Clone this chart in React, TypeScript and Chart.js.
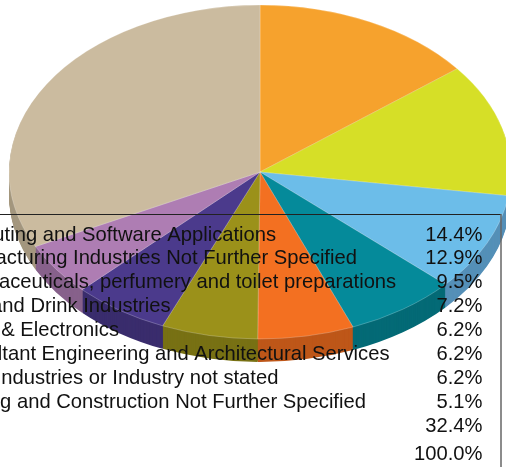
import React, { useEffect, useRef } from "react";
import { Chart, registerables } from "chart.js";

Chart.register(...registerables);

const categories = [
  "Computing and Software Applications",
  "Manufacturing Industries Not Further Specified",
  "Pharmaceuticals, perfumery and toilet preparations",
  "Food and Drink Industries",
  "Electr. & Electronics",
  "Consultant Engineering and Architectural Services",
  "Other Industries or Industry not stated",
  "Building and Construction Not Further Specified",
  "Others",
];
const shares = [14.4, 12.9, 9.5, 7.2, 6.2, 6.2, 6.2, 5.1, 32.4];
const shareLabels = ["14.4%", "12.9%", "9.5%", "7.2%", "6.2%", "6.2%", "6.2%", "5.1%", "32.4%"];
const totalLabel = "Total";
const totalShare = "100.0%";
const topColors = ["#F6A22D", "#D6DF27", "#6CBDE9", "#058A9A", "#F37021", "#9B911A", "#4B3A8C", "#AE7DB3", "#CBBB9F"];
const sideColors = ["#BF7E23", "#A7AE1E", "#5590B8", "#046A76", "#BE5719", "#787114", "#3A2D6D", "#87618B", "#A4977F"];

const CX = 260, CY = 172, RX = 251, SQUASH = 0.665, DEPTH = 23;

const pie3d = {
  id: "pie3d",
  beforeDatasetsDraw(chart: any) {
    const ctx = chart.ctx;
    const arcs = chart.getDatasetMeta(0).data;
    const project = (d: number) => {
      ctx.setTransform(1, 0, 0, 1, 0, 0);
      ctx.translate(CX, CY + d);
      ctx.scale(1, SQUASH);
      ctx.translate(-arcs[0].x, -arcs[0].y);
    };
    ctx.save();
    for (let d = DEPTH; d >= 1; d--) {
      project(d);
      arcs.forEach((arc: any, i: number) => {
        const o = arc.options;
        arc.options = { ...o, backgroundColor: sideColors[i], borderWidth: 0 };
        arc.draw(ctx);
        arc.options = o;
      });
    }
    project(0);
  },
  afterDatasetsDraw(chart: any) {
    const ctx = chart.ctx;
    ctx.restore();
    ctx.save();
    ctx.strokeStyle = "#222222";
    ctx.lineWidth = 1;
    ctx.beginPath();
    ctx.moveTo(0, 214.5);
    ctx.lineTo(501, 214.5);
    ctx.stroke();
    ctx.strokeStyle = "#666666";
    ctx.lineWidth = 1.5;
    ctx.beginPath();
    ctx.moveTo(501, 214);
    ctx.lineTo(501, 467);
    ctx.stroke();
    ctx.fillStyle = "#111111";
    ctx.font = "20.2px 'Liberation Sans'";
    ctx.textBaseline = "alphabetic";
    const y = (i: number) => 240.5 + i * 23.95;
    categories.forEach((c, i) => {
      ctx.textAlign = "left";
      ctx.fillText(c, -60.5, y(i));
      ctx.textAlign = "right";
      ctx.fillText(shareLabels[i], 482.5, y(i));
    });
    ctx.textAlign = "left";
    ctx.fillText(totalLabel, -60.5, 459.5);
    ctx.textAlign = "right";
    ctx.fillText(totalShare, 482.5, 459.5);
    ctx.restore();
  },
};

export default function App() {
  const ref = useRef<HTMLCanvasElement>(null);
  useEffect(() => {
    document.body.style.margin = "0";
    const chart = new Chart(ref.current!, {
      type: "pie",
      data: {
        labels: categories,
        datasets: [{
          data: shares,
          backgroundColor: topColors,
          borderColor: "rgba(255,255,255,0.35)",
          borderWidth: 0.8,
          radius: RX,
          clip: false,
        } as any],
      },
      options: {
        responsive: false,
        animation: false,
        layout: { padding: 0 },
        plugins: { legend: { display: false }, tooltip: { enabled: false }, title: { display: false } },
      },
      plugins: [pie3d],
    });
    return () => chart.destroy();
  }, []);
  return <canvas ref={ref} width={506} height={467} style={{ display: "block" }} />;
}
